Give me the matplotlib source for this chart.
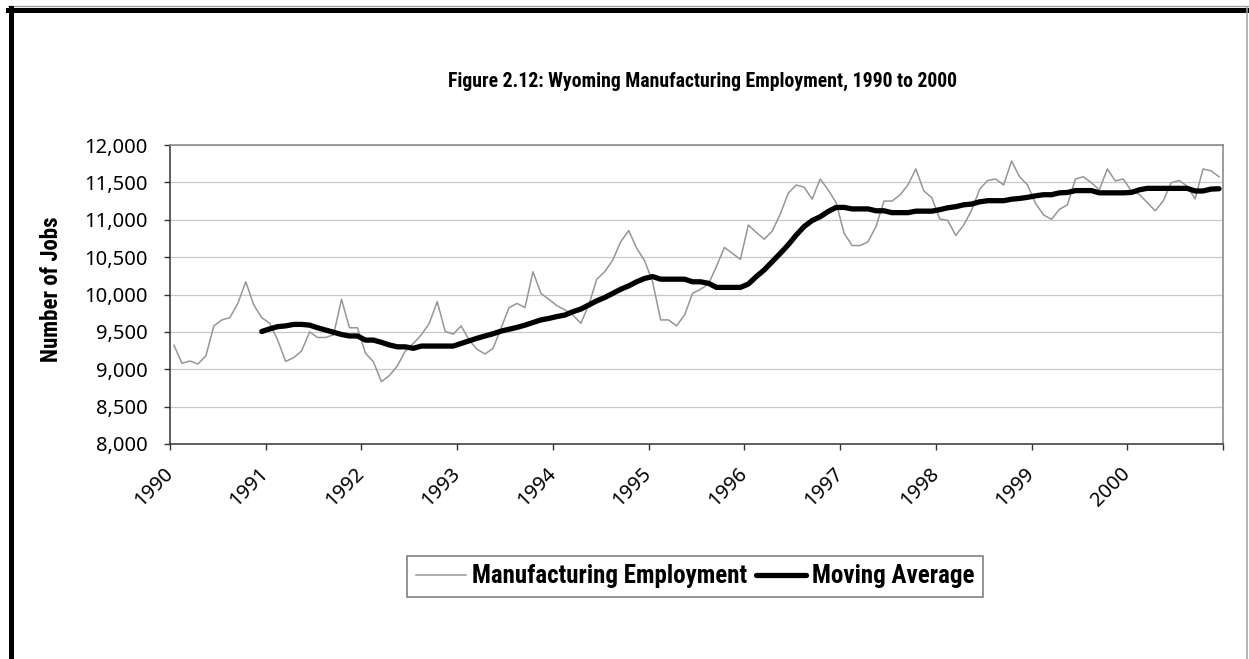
import matplotlib
matplotlib.use("Agg")
import matplotlib.pyplot as plt
from matplotlib import font_manager
from matplotlib.font_manager import FontProperties
from matplotlib.lines import Line2D
import numpy as np

# monthly manufacturing jobs, Jan 1990 - Dec 2000
employment = [
    9320, 9080, 9110, 9070, 9180, 9580, 9660, 9690, 9880, 10170, 9860, 9690,
    9615, 9390, 9105, 9155, 9245, 9500, 9425, 9425, 9460, 9935, 9555, 9555,
    9215, 9100, 8835, 8915, 9045, 9245, 9345, 9460, 9615, 9905, 9505, 9470,
    9580, 9390, 9265, 9205, 9280, 9550, 9825, 9880, 9825, 10305, 10015, 9935,
    9850, 9795, 9725, 9615, 9860, 10205, 10305, 10460, 10705, 10855, 10620, 10450,
    10170, 9660, 9660, 9580, 9725, 10015, 10070, 10140, 10375, 10630, 10550, 10470,
    10930, 10830, 10740, 10850, 11075, 11355, 11465, 11435, 11275, 11545, 11400, 11230,
    10820, 10655, 10655, 10705, 10910, 11250, 11250, 11330, 11465, 11680, 11385, 11295,
    11010, 10990, 10790, 10930, 11130, 11410, 11525, 11545, 11465, 11785, 11575, 11465,
    11220, 11065, 11005, 11140, 11200, 11545, 11575, 11495, 11400, 11680, 11520, 11545,
    11385, 11340, 11230, 11120, 11250, 11495, 11525, 11450, 11280, 11680, 11655, 11575,
]

# 12-month moving average, first value at Dec 1990
moving_avg = [
    9505,
    9540, 9570, 9580, 9600, 9600, 9590, 9555, 9525, 9495, 9465, 9445, 9445,
    9390, 9390, 9360, 9325, 9300, 9300, 9280, 9310, 9310, 9310, 9310, 9310,
    9345, 9380, 9415, 9445, 9475, 9510, 9535, 9560, 9590, 9625, 9660, 9680,
    9705, 9725, 9770, 9805, 9860, 9915, 9960, 10015, 10070, 10115, 10170, 10215,
    10240, 10205, 10205, 10205, 10205, 10170, 10170, 10150, 10095, 10095, 10095, 10095,
    10140, 10240, 10330, 10440, 10550, 10665, 10795, 10910, 10990, 11040, 11110, 11165,
    11165, 11145, 11145, 11145, 11120, 11120, 11095, 11095, 11095, 11115, 11115, 11115,
    11135, 11160, 11175, 11200, 11210, 11240, 11255, 11255, 11255, 11275, 11285, 11300,
    11320, 11335, 11335, 11360, 11365, 11390, 11390, 11390, 11360, 11360, 11360, 11360,
    11365, 11400, 11420, 11420, 11420, 11420, 11420, 11420, 11385, 11385, 11410, 11415,
]

years = ['1990', '1991', '1992', '1993', '1994', '1995',
         '1996', '1997', '1998', '1999', '2000']

W, H = 1249, 659


def weight_of(f):
    if isinstance(f.weight, (int, float)):
        return f.weight
    return font_manager.weight_dict.get(f.weight, 400)


def is_narrow(f):
    if 'Narrow' in f.name or 'Condensed' in f.name:
        return True
    return f.stretch in ('condensed', 'semi-condensed', 'extra-condensed') or \
        (isinstance(f.stretch, (int, float)) and f.stretch < 500)


def bold_narrow_file():
    prefs = ['Liberation Sans Narrow', 'Arial Narrow', 'Roboto Condensed', 'Open Sans',
             'Noto Sans', 'DejaVu Sans']
    found = [f for f in font_manager.fontManager.ttflist
             if is_narrow(f) and weight_of(f) >= 600 and 'Italic' not in f.fname
             and 'Oblique' not in f.fname and f.style == 'normal']
    for p in prefs:
        for f in found:
            if f.name.startswith(p):
                return f.fname
    return found[0].fname if found else None


narrow_file = bold_narrow_file()


def bold_font(size):
    if narrow_file:
        return FontProperties(fname=narrow_file, size=size)
    # no condensed face installed: shrink the regular bold to similar widths
    return FontProperties(family='Liberation Sans', weight='bold', size=size * 0.82)


plain = ['Noto Sans', 'DejaVu Sans']

fig = plt.figure(figsize=(W / 100, H / 100), dpi=100)
ax = fig.add_axes([170 / W, 1 - 444 / H, (1223 - 170) / W, (444 - 145) / H])

months = np.arange(len(employment)) + 0.5
ax.plot(months, employment, color='#969696', lw=1.1, label='Manufacturing Employment')
ax.plot(months[len(employment) - len(moving_avg):], moving_avg, color='black', lw=3.8,
        solid_capstyle='round', solid_joinstyle='round', label='Moving Average')

ax.set_xlim(0, len(employment))
ax.set_ylim(8000, 12000)
ax.set_yticks(np.arange(8000, 12001, 500))
ax.set_yticklabels([f'{v:,}' for v in range(8000, 12001, 500)], family=plain, fontsize=14.5)
ax.set_xticks(np.arange(0, len(employment) + 1, 12))
ax.set_xticklabels(years + [''], family=plain, fontsize=14.5, rotation=45,
                   ha='right', va='center', rotation_mode='anchor')
ax.tick_params(axis='y', direction='out', length=4, width=1, color='#333333', pad=12)
ax.tick_params(axis='x', direction='out', length=4.5, width=1, color='#333333', pad=15)

ax.grid(axis='y', color='#c8c8c8', lw=0.9)
ax.set_axisbelow(True)
for side in ['left', 'bottom']:
    ax.spines[side].set_color('#333333')
    ax.spines[side].set_linewidth(1.1)
for side in ['top', 'right']:
    ax.spines[side].set_color('#8c8c8c')
    ax.spines[side].set_linewidth(1.2)

fig.text(52 / W, 1 - 289 / H, 'Number of Jobs', rotation=90, ha='center', va='center',
         fontproperties=bold_font(16.5))
fig.text(703 / W, 1 - 81 / H, 'Figure 2.12: Wyoming Manufacturing Employment, 1990 to 2000',
         ha='center', va='center', fontproperties=bold_font(14.2))

leg = fig.legend(loc='center', bbox_to_anchor=(695 / W, 1 - 576.5 / H), ncol=2,
                 prop=bold_font(18),
                 frameon=True, fancybox=False, edgecolor='#808080', framealpha=1,
                 handlelength=2.0, handletextpad=0.25, columnspacing=0.35, borderpad=0.35)
leg.get_frame().set_linewidth(1.2)

# chart area border
fig.add_artist(Line2D([8 / W, 1], [1 - 6 / H, 1 - 6 / H], transform=fig.transFigure,
                      color='#a0a0a0', lw=1))
fig.add_artist(Line2D([8 / W, 1], [1 - 10 / H, 1 - 10 / H], transform=fig.transFigure,
                      color='black', lw=3.6))
fig.add_artist(Line2D([10.5 / W, 10.5 / W], [1 - 8 / H, 0], transform=fig.transFigure,
                      color='black', lw=3.6))
fig.add_artist(Line2D([1247 / W, 1247 / W], [1 - 8 / H, 0], transform=fig.transFigure,
                      color='#a0a0a0', lw=1.1))

fig.savefig('out.png', dpi=100)
